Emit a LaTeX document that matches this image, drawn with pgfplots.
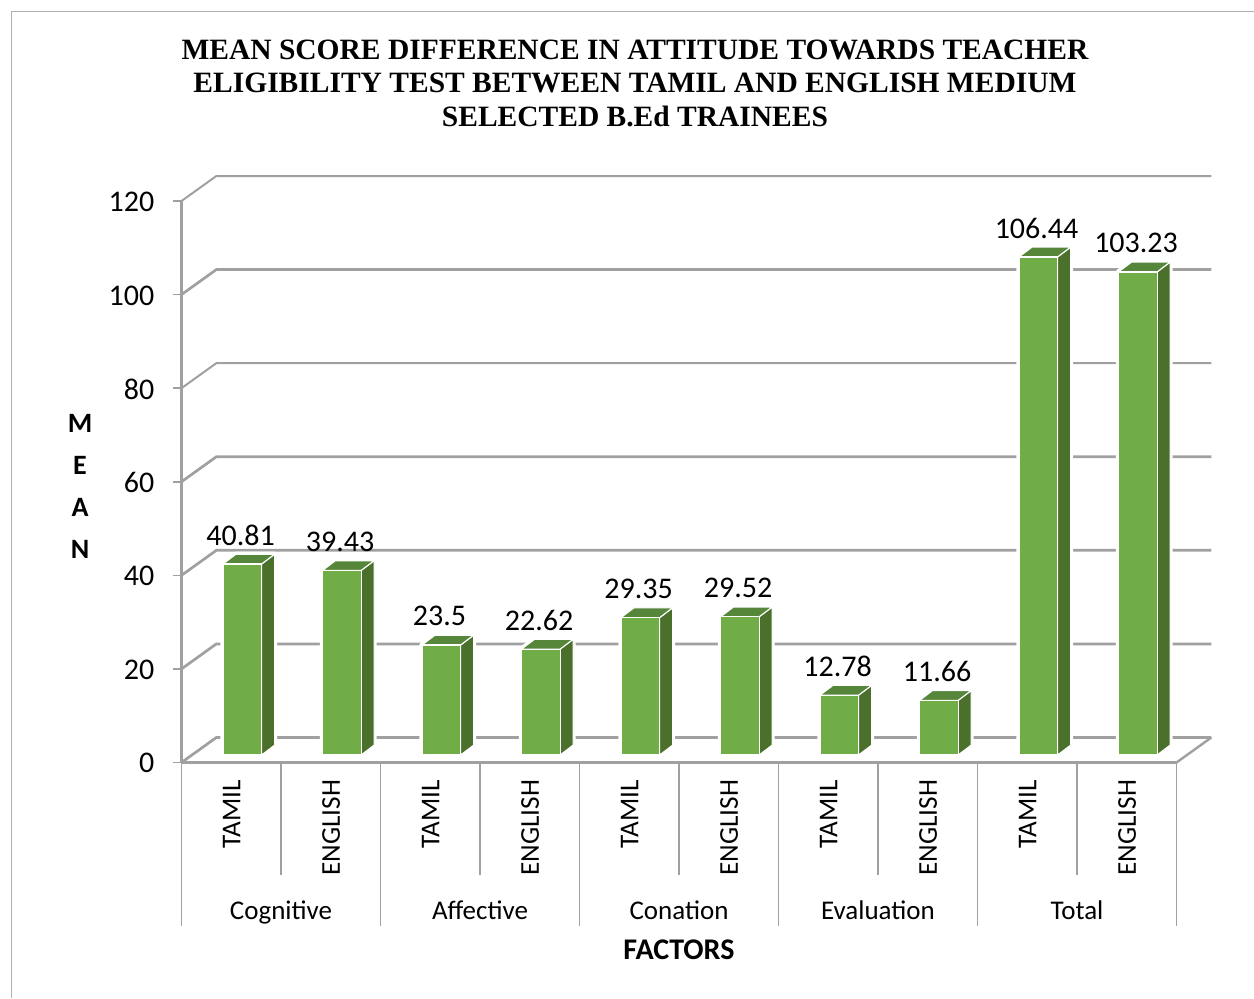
\documentclass[border=0pt]{standalone}
\usepackage{pgfplots}
\pgfplotsset{compat=1.18}
\usepackage{fontspec}
\setmainfont{Carlito}
\newfontfamily\titlefont{Liberation Serif}
\definecolor{barfront}{HTML}{70AD47}
\definecolor{bartop}{HTML}{56863A}
\definecolor{barside}{HTML}{4A702C}
\definecolor{axgray}{HTML}{A0A0A0}
\definecolor{framegray}{HTML}{B0B0B0}
% 1 px of the reference = 0.5pt
\pgfdeclareplotmark{bar3d}{%
  \pgfmathsetmacro\hh{\barval*2.3395}% height of the front face
  \pgfmathsetmacro\tp{3.75}%
  \pgfmathsetmacro\bt{\tp-\hh}%
  \def\xl{-4.15}\def\xr{15.15}\def\dx{6.5}\def\dy{4.9}%
  \pgfmathsetmacro\xrb{\xr+\dx}\pgfmathsetmacro\xlb{\xl+\dx}%
  \pgfmathsetmacro\tpb{\tp+\dy}\pgfmathsetmacro\btb{\bt+\dy}%
  % white halo
  \pgfsetcolor{white}\pgfsetlinewidth{2.6pt}\pgfsetroundjoin
  \pgfpathmoveto{\pgfpoint{\xl pt}{\bt pt}}%
  \pgfpathlineto{\pgfpoint{\xr pt}{\bt pt}}%
  \pgfpathlineto{\pgfpoint{\xrb pt}{\btb pt}}%
  \pgfpathlineto{\pgfpoint{\xrb pt}{\tpb pt}}%
  \pgfpathlineto{\pgfpoint{\xlb pt}{\tpb pt}}%
  \pgfpathlineto{\pgfpoint{\xl pt}{\tp pt}}%
  \pgfpathclose\pgfusepath{stroke,fill}%
  \pgfsetlinewidth{0.55pt}\pgfsetmiterjoin
  % side
  \pgfsetfillcolor{barside}\pgfsetstrokecolor{white}%
  \pgfpathmoveto{\pgfpoint{\xr pt}{\bt pt}}%
  \pgfpathlineto{\pgfpoint{\xrb pt}{\btb pt}}%
  \pgfpathlineto{\pgfpoint{\xrb pt}{\tpb pt}}%
  \pgfpathlineto{\pgfpoint{\xr pt}{\tp pt}}%
  \pgfpathclose\pgfusepath{fill,stroke}%
  % top
  \pgfsetfillcolor{bartop}%
  \pgfpathmoveto{\pgfpoint{\xl pt}{\tp pt}}%
  \pgfpathlineto{\pgfpoint{\xr pt}{\tp pt}}%
  \pgfpathlineto{\pgfpoint{\xrb pt}{\tpb pt}}%
  \pgfpathlineto{\pgfpoint{\xlb pt}{\tpb pt}}%
  \pgfpathclose\pgfusepath{fill,stroke}%
  % front
  \pgfsetfillcolor{barfront}%
  \pgfpathmoveto{\pgfpoint{\xl pt}{\bt pt}}%
  \pgfpathlineto{\pgfpoint{\xr pt}{\bt pt}}%
  \pgfpathlineto{\pgfpoint{\xr pt}{\tp pt}}%
  \pgfpathlineto{\pgfpoint{\xl pt}{\tp pt}}%
  \pgfpathclose\pgfusepath{fill,stroke}%
}
\pgfplotstableread{
x  mean
0  40.81
1  39.43
2  23.5
3  22.62
4  29.35
5  29.52
6  12.78
7  11.66
8  106.44
9  103.23
}\meandata
\begin{document}
\begin{tikzpicture}
\path[use as bounding box] (0pt,0pt) rectangle (627pt,499pt);
\draw[framegray,line width=0.8pt] (5.75pt,0pt) -- (5.75pt,493.25pt) -- (627pt,493.25pt);
\begin{axis}[
  at={(90.75pt,117.75pt)},anchor=south west,
  scale only axis,width=497.5pt,height=280.75pt,
  xmin=-0.5,xmax=9.5,ymin=0,ymax=120,
  clip=false,
  axis x line=bottom,axis y line=left,
  axis line style={-,draw=axgray,line width=1.2pt},
  tick style={draw=axgray,line width=0.8pt},
  xtick={0,...,9},
  xticklabels={TAMIL,ENGLISH,TAMIL,ENGLISH,TAMIL,ENGLISH,TAMIL,ENGLISH,TAMIL,ENGLISH},
  x tick label style={rotate=90,anchor=east,font=\fontsize{13.6pt}{15pt}\selectfont,xshift=-0.7pt,yshift=-0.25pt},
  major x tick style={draw=none},
  ytick={0,20,...,120},
  major tick length=4.5pt,
  y tick label style={font=\fontsize{15pt}{16pt}\selectfont,/pgf/number format/assume math mode=true,xshift=-5.55pt,yshift=-0.4pt},
  tick align=outside,
]
% back wall and floor
\pgfplotsinvokeforeach{0,20,40,60,100}{
  \draw[axgray,line width=1.35pt] (axis cs:-0.5,#1) -- (axis cs:-0.15,#1+5.34) -- (axis cs:9.85,#1+5.34);
}
\pgfplotsinvokeforeach{80,120}{
  \draw[axgray,line width=1pt] (axis cs:-0.5,#1) -- (axis cs:-0.15,#1+5.34) -- (axis cs:9.85,#1+5.34);
}
\draw[axgray,line width=1.2pt] (axis cs:9.5,0) -- (axis cs:9.85,5.34);
% category separators
\pgfplotsinvokeforeach{0.5,2.5,4.5,6.5,8.5}{
  \draw[axgray,line width=0.7pt] (axis cs:#1,0) -- (axis cs:#1,-24);
}
\pgfplotsinvokeforeach{-0.5,1.5,3.5,5.5,7.5,9.5}{
  \draw[axgray,line width=0.7pt] (axis cs:#1,0) -- (axis cs:#1,-34.9);
}
\addplot[scatter,only marks,mark=bar3d,
  visualization depends on={y \as \barval},
  nodes near coords={\pgfmathprintnumber[precision=2]{\pgfplotspointmeta}},
  nodes near coords style={anchor=center,xshift=4.65pt,yshift=18.2pt,text=black,
    font=\fontsize{15pt}{16pt}\selectfont,/pgf/number format/assume math mode=true},
] table[x=x,y=mean] {\meandata};
\node[anchor=base,font=\fontsize{13.5pt}{15pt}\selectfont] at (axis cs:0.5,-33.5) {Cognitive};
\node[anchor=base,font=\fontsize{13.5pt}{15pt}\selectfont] at (axis cs:2.5,-33.5) {Affective};
\node[anchor=base,font=\fontsize{13.5pt}{15pt}\selectfont] at (axis cs:4.5,-33.5) {Conation};
\node[anchor=base,font=\fontsize{13.5pt}{15pt}\selectfont] at (axis cs:6.5,-33.5) {Evaluation};
\node[anchor=base,font=\fontsize{13.5pt}{15pt}\selectfont] at (axis cs:8.5,-33.5) {Total};
\end{axis}
\node[font=\titlefont\bfseries\fontsize{14.75pt}{16.8pt}\selectfont,align=center,anchor=center] at (317.5pt,457.3pt) {MEAN SCORE DIFFERENCE IN ATTITUDE TOWARDS TEACHER\\ELIGIBILITY TEST BETWEEN TAMIL AND ENGLISH MEDIUM\\SELECTED B.Ed TRAINEES};
\foreach \l/\yy in {M/287.5,E/266.5,A/245.5,N/224.5}{
  \node[font=\bfseries\fontsize{14pt}{16pt}\selectfont] at (40pt,\yy pt) {\l};
}
\node[font=\bfseries\fontsize{15pt}{16pt}\selectfont] at (339.5pt,24pt) {FACTORS};
\end{tikzpicture}
\end{document}
